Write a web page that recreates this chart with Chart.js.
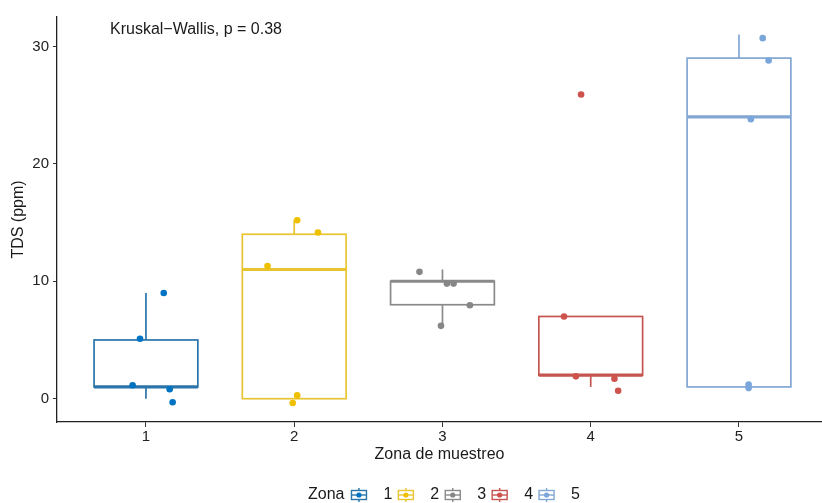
<!DOCTYPE html>
<html><head><meta charset="utf-8">
<script src="https://cdn.jsdelivr.net/npm/chart.js@4/dist/chart.umd.min.js"></script>
<style>html,body{margin:0;padding:0;background:#fff;}#wrap{width:822px;height:503px;}</style>
</head><body><div id="wrap"><canvas id="c" width="822" height="503"></canvas></div>
<script>
// ---- data ----
const categories = [1, 2, 3, 4, 5];
const zoneLabels = ['1', '2', '3', '4', '5'];
const yTicks = [0, 10, 20, 30];
const q1 = [1, 0, 8, 2, 1];
const median = [1, 11, 10, 2, 24];
const q3 = [5, 14, 10, 7, 29];
const whiskerLow = [0, 0, 6.2, 1, 1];
const whiskerHigh = [9, 15.2, 11, 7, 31];
// jittered points (x position, y value)
const zone1X = [1.12, 0.96, 0.91, 1.16, 1.18];
const zone1Y = [9.0, 5.1, 1.15, 0.8, -0.3];
const zone2X = [2.02, 2.16, 1.82, 2.02, 1.99];
const zone2Y = [15.2, 14.15, 11.3, 0.28, -0.37];
const zone3X = [2.845, 3.03, 3.075, 3.185, 2.99];
const zone3Y = [10.8, 9.8, 9.8, 7.96, 6.2];
const zone4X = [3.82, 3.90, 4.16, 4.185, 3.935];
const zone4Y = [7.0, 1.9, 1.7, 0.68, 25.9];
const zone5X = [5.16, 5.20, 5.08, 5.065, 5.065];
const zone5Y = [30.7, 28.8, 23.8, 1.2, 0.9];
const annotation = 'Kruskal\u2212Wallis, p = 0.38';

// ---- style ----
const colors = ['#0073C2', '#EFC000', '#868686', '#CD534C', '#7AA6DC'];
const lineColors = ['#2A74AA', '#E9C431', '#8A8A8A', '#C65550', '#82A7D3'];
const FONT = "'Liberation Sans', Arial, sans-serif";
const BOX_W = 0.7;
const pointsX = [zone1X, zone2X, zone3X, zone4X, zone5X];
const pointsY = [zone1Y, zone2Y, zone3Y, zone4Y, zone5Y];

const boxPlugin = {
  id: 'boxes',
  beforeDatasetsDraw(chart) {
    const {ctx, scales: {x, y}} = chart;
    categories.forEach((c, i) => {
      const cx = x.getPixelForValue(c);
      const left = x.getPixelForValue(c - BOX_W / 2);
      const right = x.getPixelForValue(c + BOX_W / 2);
      const yq1 = y.getPixelForValue(q1[i]);
      const yq3 = y.getPixelForValue(q3[i]);
      const ym = y.getPixelForValue(median[i]);
      ctx.save();
      ctx.strokeStyle = lineColors[i];
      ctx.lineWidth = 1.7;
      ctx.beginPath();
      ctx.moveTo(cx, yq3); ctx.lineTo(cx, y.getPixelForValue(whiskerHigh[i]));
      ctx.moveTo(cx, yq1); ctx.lineTo(cx, y.getPixelForValue(whiskerLow[i]));
      ctx.stroke();
      ctx.fillStyle = '#fff';
      ctx.fillRect(left, yq3, right - left, yq1 - yq3);
      ctx.strokeRect(left, yq3, right - left, yq1 - yq3);
      ctx.lineWidth = 3.2;
      ctx.beginPath();
      ctx.moveTo(left, ym); ctx.lineTo(right, ym);
      ctx.stroke();
      ctx.restore();
    });
  },
  afterDraw(chart) {
    const {ctx} = chart;
    ctx.save();
    ctx.fillStyle = '#1a1a1a';
    ctx.font = '16px ' + FONT;
    ctx.textBaseline = 'middle';
    ctx.textAlign = 'left';
    ctx.fillText(annotation, 110, 30);
    // legend
    const ly = 495;
    let lx = 308;
    ctx.fillText('Zona', lx, ly);
    lx += ctx.measureText('Zona').width + 7;
    zoneLabels.forEach((lab, i) => {
      const w = 15, h = 9;
      const cx = lx + w / 2;
      ctx.strokeStyle = lineColors[i];
      ctx.lineWidth = 1.4;
      ctx.beginPath();
      ctx.moveTo(cx, ly - 7); ctx.lineTo(cx, ly - h / 2);
      ctx.moveTo(cx, ly + h / 2); ctx.lineTo(cx, ly + 7);
      ctx.stroke();
      ctx.strokeRect(lx, ly - h / 2, w, h);
      ctx.beginPath();
      ctx.moveTo(lx, ly); ctx.lineTo(lx + w, ly);
      ctx.stroke();
      ctx.fillStyle = colors[i];
      ctx.beginPath();
      ctx.arc(cx, ly, 2.6, 0, Math.PI * 2);
      ctx.fill();
      ctx.fillStyle = '#1a1a1a';
      lx += w + 17;
      ctx.fillText(lab, lx, ly);
      lx += ctx.measureText(lab).width + 6;
    });
    ctx.restore();
  }
};

const datasets = categories.map((c, i) => ({
  type: 'scatter',
  label: zoneLabels[i],
  data: pointsX[i].map((px, k) => ({x: px, y: pointsY[i][k]})),
  backgroundColor: colors[i],
  borderColor: colors[i],
  borderWidth: 0,
  pointRadius: 3.3,
  pointHoverRadius: 3.3
}));

new Chart(document.getElementById('c'), {
  type: 'scatter',
  data: {datasets},
  options: {
    responsive: false,
    animation: false,
    events: [],
    layout: {autoPadding: false, padding: {top: 17, right: 0, bottom: 39, left: 0}},
    plugins: {legend: {display: false}, tooltip: {enabled: false}},
    scales: {
      x: {
        type: 'linear', min: 0.4, max: 5.56,
        afterBuildTicks: s => { s.ticks = categories.map(v => ({value: v})); },
        afterFit: s => { s.height = 42; s.paddingLeft = 0; s.paddingRight = 0; },
        ticks: {callback: (v) => zoneLabels[categories.indexOf(v)] ?? '', color: '#222', font: {family: FONT, size: 15}, padding: 1, maxRotation: 0},
        grid: {drawOnChartArea: false, tickLength: 5, color: '#333', lineWidth: 1},
        border: {display: true, color: '#222', width: 1.3},
        title: {display: true, text: 'Zona de muestreo', color: '#1a1a1a', font: {family: FONT, size: 16}, padding: 0}
      },
      y: {
        type: 'linear', min: -1.985, max: 32.5,
        afterBuildTicks: s => { s.ticks = yTicks.map(v => ({value: v})); },
        afterFit: s => { s.width = 57; s.paddingTop = 0; s.paddingBottom = 0; },
        ticks: {color: '#222', font: {family: FONT, size: 15}, padding: 4},
        grid: {drawOnChartArea: false, tickLength: 4, color: '#333', lineWidth: 1},
        border: {display: true, color: '#222', width: 1.3},
        title: {display: true, text: 'TDS (ppm)', color: '#1a1a1a', font: {family: FONT, size: 16}, padding: {top: 9, bottom: 0}}
      }
    }
  },
  plugins: [boxPlugin]
});
</script>
</body></html>
